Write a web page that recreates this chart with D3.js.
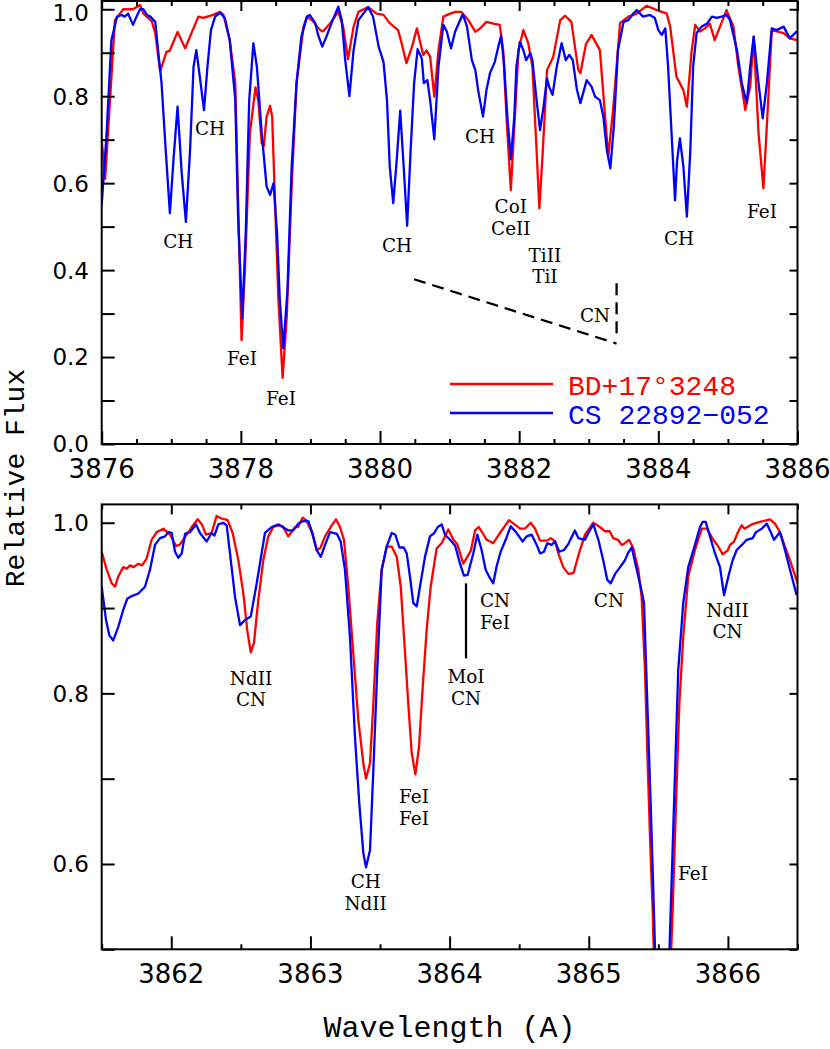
<!DOCTYPE html>
<html>
<head>
<meta charset="utf-8">
<script src="https://cdn.jsdelivr.net/npm/d3@7"></script>
<style>
  body { margin: 0; background: #fff; }
  svg { display: block; }
</style>
</head>
<body>
<div id="chart"></div>
<script>
// ---- data: [wavelength (A), relative flux] ----
const topRed = [
  [3876.00,0.70],[3876.05,0.61],[3876.19,0.975],[3876.31,1.00],[3876.45,1.00],[3876.55,1.01],[3876.60,0.99],
  [3876.72,0.972],[3876.77,0.945],[3876.84,0.857],[3876.93,0.902],[3876.98,0.905],[3877.09,0.948],[3877.20,0.91],
  [3877.29,0.945],[3877.39,0.983],[3877.46,0.98],[3877.60,0.987],[3877.70,0.994],[3877.75,0.987],[3877.84,0.929],
  [3877.92,0.83],[3877.96,0.561],[3878.01,0.239],[3878.06,0.408],[3878.13,0.715],[3878.21,0.82],[3878.25,0.791],
  [3878.30,0.692],[3878.33,0.685],[3878.37,0.753],[3878.42,0.778],[3878.45,0.753],[3878.49,0.561],[3878.54,0.331],
  [3878.60,0.152],[3878.66,0.293],[3878.73,0.592],[3878.80,0.83],[3878.90,0.96],[3878.95,0.983],[3879.02,0.975],
  [3879.14,0.952],[3879.18,0.949],[3879.28,0.967],[3879.40,0.994],[3879.47,0.96],[3879.54,0.885],[3879.62,0.96],
  [3879.69,0.994],[3879.83,1.005],[3879.95,0.99],[3880.05,0.987],[3880.14,0.968],[3880.26,0.952],[3880.31,0.922],
  [3880.38,0.876],[3880.46,0.914],[3880.53,0.956],[3880.62,0.895],[3880.67,0.905],[3880.72,0.891],[3880.78,0.799],
  [3880.84,0.906],[3880.91,0.983],[3881.01,0.99],[3881.08,0.994],[3881.17,0.994],[3881.27,0.975],[3881.37,0.948],
  [3881.44,0.956],[3881.53,0.971],[3881.63,0.967],[3881.72,0.964],[3881.77,0.906],[3881.82,0.745],[3881.88,0.584],
  [3881.93,0.73],[3881.99,0.906],[3882.06,0.952],[3882.13,0.922],[3882.19,0.868],[3882.25,0.676],[3882.29,0.542],
  [3882.34,0.676],[3882.40,0.86],[3882.49,0.891],[3882.59,0.975],[3882.66,0.985],[3882.75,0.971],[3882.85,0.86],
  [3882.88,0.853],[3882.96,0.92],[3883.04,0.941],[3883.16,0.906],[3883.28,0.661],[3883.35,0.77],[3883.45,0.968],
  [3883.57,0.983],[3883.69,0.99],[3883.83,1.008],[3883.98,0.998],[3884.12,0.99],[3884.17,0.96],[3884.26,0.845],
  [3884.36,0.814],[3884.41,0.776],[3884.48,0.906],[3884.53,0.964],[3884.60,0.949],[3884.67,0.956],[3884.74,0.967],
  [3884.81,0.929],[3884.86,0.949],[3884.98,0.998],[3885.08,0.96],[3885.15,0.868],[3885.25,0.768],[3885.32,0.822],
  [3885.37,0.937],[3885.44,0.715],[3885.51,0.588],[3885.57,0.763],[3885.63,0.952],[3885.70,0.949],[3885.80,0.945],
  [3885.89,0.933],[3885.99,0.929]
];

const topBlue = [
  [3876.00,0.55],[3876.07,0.714],[3876.14,0.929],[3876.22,0.983],[3876.29,0.987],[3876.33,0.983],[3876.38,0.99],
  [3876.45,0.964],[3876.50,0.983],[3876.55,1.0],[3876.60,1.0],[3876.65,0.987],[3876.70,0.983],[3876.77,0.971],
  [3876.81,0.906],[3876.86,0.83],[3876.92,0.676],[3876.98,0.531],[3877.03,0.65],[3877.09,0.776],[3877.15,0.623],
  [3877.21,0.511],[3877.27,0.676],[3877.32,0.868],[3877.36,0.906],[3877.41,0.845],[3877.47,0.768],[3877.52,0.868],
  [3877.57,0.952],[3877.63,0.983],[3877.70,0.992],[3877.77,0.98],[3877.84,0.929],[3877.92,0.791],[3877.96,0.523],
  [3878.02,0.289],[3878.07,0.485],[3878.12,0.791],[3878.18,0.922],[3878.23,0.868],[3878.30,0.715],[3878.37,0.592],
  [3878.42,0.573],[3878.47,0.60],[3878.52,0.485],[3878.56,0.331],[3878.61,0.22],[3878.67,0.355],[3878.73,0.638],
  [3878.80,0.83],[3878.87,0.937],[3878.95,0.983],[3878.99,0.987],[3879.07,0.968],[3879.11,0.941],[3879.17,0.914],
  [3879.23,0.937],[3879.31,0.971],[3879.40,1.006],[3879.45,0.975],[3879.50,0.883],[3879.56,0.80],[3879.62,0.906],
  [3879.69,0.975],[3879.76,0.99],[3879.83,1.005],[3879.90,0.983],[3879.98,0.914],[3880.05,0.879],[3880.10,0.791],
  [3880.14,0.638],[3880.19,0.554],[3880.24,0.653],[3880.29,0.767],[3880.34,0.638],[3880.39,0.502],[3880.44,0.676],
  [3880.49,0.83],[3880.54,0.908],[3880.60,0.887],[3880.63,0.83],[3880.68,0.837],[3880.72,0.791],[3880.78,0.701],
  [3880.84,0.868],[3880.91,0.964],[3880.96,0.949],[3881.02,0.91],[3881.08,0.949],[3881.19,0.989],[3881.25,0.96],
  [3881.32,0.883],[3881.37,0.86],[3881.41,0.814],[3881.48,0.753],[3881.53,0.814],[3881.58,0.853],[3881.65,0.879],
  [3881.70,0.914],[3881.74,0.939],[3881.78,0.879],[3881.83,0.753],[3881.88,0.655],[3881.93,0.753],[3881.96,0.868],
  [3882.01,0.925],[3882.06,0.906],[3882.10,0.883],[3882.16,0.899],[3882.19,0.883],[3882.25,0.791],[3882.30,0.722],
  [3882.35,0.776],[3882.40,0.841],[3882.43,0.822],[3882.48,0.803],[3882.54,0.868],[3882.61,0.922],[3882.67,0.883],
  [3882.72,0.895],[3882.77,0.883],[3882.83,0.815],[3882.88,0.784],[3882.97,0.837],[3883.04,0.822],[3883.09,0.799],
  [3883.16,0.791],[3883.21,0.753],[3883.26,0.676],[3883.31,0.634],[3883.36,0.73],[3883.42,0.906],[3883.50,0.971],
  [3883.57,0.975],[3883.64,0.99],[3883.69,0.998],[3883.78,0.983],[3883.88,0.987],[3883.95,0.98],[3884.00,0.952],
  [3884.05,0.941],[3884.10,0.956],[3884.14,0.868],[3884.19,0.715],[3884.24,0.561],[3884.27,0.653],[3884.31,0.703],
  [3884.36,0.638],[3884.41,0.523],[3884.46,0.676],[3884.50,0.868],[3884.55,0.945],[3884.62,0.96],[3884.70,0.967],
  [3884.77,0.983],[3884.84,0.98],[3884.91,0.983],[3884.98,0.987],[3885.03,0.975],[3885.13,0.906],[3885.20,0.83],
  [3885.27,0.784],[3885.32,0.868],[3885.37,0.937],[3885.44,0.83],[3885.50,0.749],[3885.56,0.83],[3885.63,0.956],
  [3885.70,0.952],[3885.80,0.96],[3885.89,0.933],[3885.99,0.949]
];

const botRed = [
  [3861.50,0.966],[3861.536,0.945],[3861.572,0.929],[3861.596,0.925],[3861.619,0.937],[3861.655,0.948],[3861.68,0.946],
  [3861.703,0.95],[3861.73,0.948],[3861.763,0.952],[3861.79,0.95],[3861.823,0.958],[3861.859,0.98],[3861.895,0.989],
  [3861.943,0.993],[3861.991,0.986],[3862.034,0.973],[3862.06,0.974],[3862.111,0.986],[3862.147,0.995],[3862.19,1.004],
  [3862.22,0.998],[3862.249,0.986],[3862.29,0.988],[3862.326,1.008],[3862.36,1.005],[3862.405,1.003],[3862.441,0.988],
  [3862.482,0.956],[3862.518,0.917],[3862.546,0.874],[3862.571,0.848],[3862.594,0.859],[3862.625,0.909],[3862.661,0.956],
  [3862.697,0.984],[3862.733,0.995],[3862.77,0.997],[3862.80,0.996],[3862.841,0.984],[3862.89,0.995],[3862.91,0.995],
  [3862.944,1.006],[3862.97,1.003],[3863.009,0.989],[3863.045,0.968],[3863.07,0.97],[3863.105,0.984],[3863.153,0.997],
  [3863.184,1.004],[3863.212,0.995],[3863.241,0.98],[3863.272,0.925],[3863.308,0.847],[3863.344,0.769],[3863.38,0.718],
  [3863.399,0.70],[3863.428,0.718],[3863.452,0.788],[3863.48,0.882],[3863.512,0.945],[3863.548,0.972],[3863.584,0.972],
  [3863.62,0.96],[3863.649,0.925],[3863.68,0.847],[3863.703,0.788],[3863.728,0.73],[3863.754,0.705],[3863.78,0.737],
  [3863.807,0.808],[3863.835,0.874],[3863.864,0.925],[3863.907,0.97],[3863.943,0.976],[3863.991,0.992],[3864.027,0.98],
  [3864.055,0.975],[3864.098,0.952],[3864.12,0.958],[3864.152,0.967],[3864.183,0.991],[3864.21,0.995],[3864.267,0.98],
  [3864.314,0.976],[3864.362,0.988],[3864.427,1.003],[3864.46,0.999],[3864.506,0.993],[3864.54,0.993],[3864.583,1.0],
  [3864.614,0.993],[3864.65,0.979],[3864.70,0.979],[3864.727,0.982],[3864.76,0.978],[3864.781,0.964],[3864.817,0.948],
  [3864.853,0.94],[3864.89,0.941],[3864.937,0.968],[3864.973,0.986],[3865.033,1.0],[3865.08,0.995],[3865.117,0.99],
  [3865.15,0.99],[3865.176,0.982],[3865.21,0.98],[3865.237,0.974],[3865.26,0.976],[3865.289,0.98],[3865.32,0.97],
  [3865.356,0.945],[3865.38,0.913],[3865.404,0.827],[3865.421,0.73],[3865.44,0.632],[3865.459,0.546],[3865.48,0.42],
  [3865.53,0.30],[3865.57,0.40],[3865.603,0.546],[3865.627,0.671],[3865.651,0.788],[3865.679,0.866],[3865.715,0.937],
  [3865.763,0.968],[3865.812,0.993],[3865.85,0.993],[3865.895,0.98],[3865.931,0.972],[3865.962,0.963],[3866.00,0.968],
  [3866.015,0.974],[3866.044,0.978],[3866.075,0.99],[3866.099,0.997],[3866.12,0.993],[3866.17,0.998],[3866.23,1.001],
  [3866.302,1.004],[3866.338,0.999],[3866.374,0.989],[3866.41,0.972],[3866.446,0.956],[3866.501,0.929]
];

const botBlue = [
  [3861.50,0.925],[3861.531,0.886],[3861.555,0.868],[3861.583,0.862],[3861.619,0.878],[3861.655,0.898],[3861.684,0.911],
  [3861.716,0.914],[3861.763,0.917],[3861.811,0.925],[3861.847,0.945],[3861.883,0.974],[3861.919,0.982],[3861.955,0.984],
  [3861.979,0.989],[3862.003,0.988],[3862.027,0.966],[3862.05,0.959],[3862.075,0.964],[3862.099,0.987],[3862.135,0.989],
  [3862.178,0.998],[3862.206,0.988],[3862.254,0.978],[3862.29,0.988],[3862.31,0.985],[3862.338,0.998],[3862.374,1.0],
  [3862.398,0.997],[3862.422,0.964],[3862.458,0.913],[3862.494,0.88],[3862.53,0.886],[3862.571,0.89],[3862.614,0.929],
  [3862.673,0.988],[3862.722,0.995],[3862.77,0.998],[3862.80,0.995],[3862.841,0.991],[3862.877,0.991],[3862.913,0.999],
  [3862.949,1.002],[3862.985,1.002],[3863.016,0.987],[3863.045,0.968],[3863.074,0.96],[3863.105,0.974],[3863.141,0.989],
  [3863.19,0.987],[3863.217,0.978],[3863.248,0.945],[3863.284,0.866],[3863.32,0.749],[3863.351,0.671],[3863.38,0.613],
  [3863.399,0.596],[3863.428,0.616],[3863.452,0.71],[3863.48,0.827],[3863.512,0.945],[3863.548,0.972],[3863.584,0.988],
  [3863.61,0.986],[3863.639,0.971],[3863.67,0.971],[3863.692,0.964],[3863.715,0.937],[3863.739,0.906],[3863.764,0.902],
  [3863.787,0.925],[3863.823,0.96],[3863.859,0.984],[3863.89,0.988],[3863.914,0.995],[3863.943,0.998],[3863.967,0.986],
  [3864.003,0.98],[3864.04,0.973],[3864.075,0.952],[3864.103,0.938],[3864.13,0.939],[3864.17,0.964],[3864.199,0.986],
  [3864.23,0.968],[3864.259,0.945],[3864.29,0.935],[3864.314,0.929],[3864.338,0.949],[3864.367,0.966],[3864.403,0.98],
  [3864.439,0.996],[3864.477,0.989],[3864.525,0.978],[3864.554,0.984],[3864.59,0.986],[3864.626,0.974],[3864.65,0.964],
  [3864.678,0.966],[3864.702,0.976],[3864.733,0.974],[3864.757,0.978],[3864.788,0.966],[3864.822,0.968],[3864.853,0.975],
  [3864.90,0.991],[3864.925,0.982],[3864.973,0.98],[3864.997,0.988],[3865.033,0.998],[3865.069,0.98],[3865.104,0.956],
  [3865.133,0.933],[3865.158,0.929],[3865.189,0.94],[3865.225,0.948],[3865.26,0.956],[3865.284,0.965],[3865.309,0.971],
  [3865.345,0.945],[3865.373,0.925],[3865.397,0.906],[3865.421,0.788],[3865.445,0.671],[3865.468,0.546],[3865.49,0.42],
  [3865.53,0.30],[3865.565,0.42],[3865.589,0.546],[3865.613,0.671],[3865.643,0.827],[3865.679,0.906],[3865.715,0.948],
  [3865.763,0.974],[3865.799,0.995],[3865.819,1.001],[3865.84,1.001],[3865.871,0.984],[3865.907,0.964],[3865.943,0.948],
  [3865.972,0.915],[3866.003,0.937],[3866.034,0.956],[3866.063,0.968],[3866.10,0.974],[3866.135,0.98],[3866.178,0.982],
  [3866.202,0.989],[3866.243,0.993],[3866.279,0.999],[3866.302,0.991],[3866.331,0.98],[3866.374,0.989],[3866.41,0.968],
  [3866.446,0.945],[3866.494,0.915]
];

// line identifications: [lines of text, wavelength, flux at first baseline]
const topNotes = [
  [["CH"],3877.556,0.711],[["CH"],3877.10,0.450],[["FeI"],3878.016,0.182],[["FeI"],3878.577,0.090],
  [["CH"],3880.244,0.442],[["CH"],3881.437,0.692],[["CoI","CeII"],3881.88,0.531],
  [["TiII","TiI"],3882.37,0.419],[["CH"],3884.297,0.458],[["FeI"],3885.49,0.519],
  [["CN"],3883.09,0.281]
];
const botNotes = [
  [["NdII","CN"],3862.573,0.810],[["CH","NdII"],3863.397,0.5715],[["FeI","FeI"],3863.744,0.671],
  [["MoI","CN"],3864.118,0.812],[["CN","FeI"],3864.326,0.901],[["CN"],3865.145,0.9016],
  [["NdII","CN"],3865.997,0.890],[["FeI"],3865.749,0.581]
];
const cnBand = [[3880.49,0.379],[3883.40,0.231]];
const cnHead = [[3883.40,0.370],[3883.40,0.251]];
const moMarker = [[3864.118,0.929],[3864.118,0.841]];

const topXLabels = [3876,3878,3880,3882,3884,3886];
const topYLabels = [0,0.2,0.4,0.6,0.8,1.0];
const botXLabels = [3862,3863,3864,3865,3866];
const botYLabels = [0.6,0.8,1.0];

const starNames = ["BD+17\u00B03248","CS 22892\u2212052"];
const starColors = ["#ff0000","#0000ff"];

// ---- drawing ----
const W = 830, H = 1049;
const svg = d3.select("#chart").append("svg").attr("width", W).attr("height", H);

const tickFont = "'DejaVu Sans', sans-serif";
const noteFont = "'DejaVu Serif', serif";
const monoFont = "'Liberation Mono', 'DejaVu Sans Mono', monospace";

function panel(o) {
  const x = d3.scaleLinear().domain(o.xDomain).range([101.7, 797.5]);
  const y = d3.scaleLinear().domain(o.yDomain).range(o.yRange);
  const g = svg.append("g");
  const [x0, x1] = x.range();
  const yb = o.yRange[0], yt = o.yRange[1];

  const clipId = "clip" + o.id;
  g.append("clipPath").attr("id", clipId)
    .append("rect").attr("x", x0).attr("y", yt).attr("width", x1 - x0).attr("height", yb - yt);

  const line = d3.line().x(d => x(d[0])).y(d => y(d[1]));
  const curves = g.append("g").attr("clip-path", `url(#${clipId})`);
  o.series.forEach((s, i) => {
    curves.append("path").datum(s)
      .attr("d", line)
      .attr("fill", "none")
      .attr("stroke", starColors[i])
      .attr("stroke-width", 2.3)
      .attr("stroke-linejoin", "round");
  });

  // ticks (inward, on all four sides)
  const minorX = d3.range(o.xDomain[0], o.xDomain[1] + 0.001, 0.5).filter(v => !o.xMajor.includes(v));
  const yT = d3.range(0, 11).map(i => +(i * 0.1).toFixed(1)).filter(v => v >= o.yDomain[0] - 1e-6 && v <= o.yDomain[1]);

  const addAxis = (axis, tr) => {
    const a = g.append("g").attr("transform", tr).call(axis);
    a.select(".domain").remove();
    a.selectAll("line").attr("stroke", "#000").attr("stroke-width", 2);
  };
  addAxis(d3.axisBottom(x).tickValues(minorX).tickSize(-5).tickFormat(""), `translate(0,${yb})`);
  addAxis(d3.axisBottom(x).tickValues(o.xMajor).tickSize(-13).tickFormat(""), `translate(0,${yb})`);
  addAxis(d3.axisTop(x).tickValues(minorX).tickSize(-5).tickFormat(""), `translate(0,${yt})`);
  addAxis(d3.axisTop(x).tickValues(o.xMajor).tickSize(-10).tickFormat(""), `translate(0,${yt})`);
  addAxis(d3.axisLeft(y).tickValues(yT).tickSize(-13).tickFormat(""), `translate(${x0},0)`);
  addAxis(d3.axisRight(y).tickValues(yT).tickSize(-8).tickFormat(""), `translate(${x1},0)`);

  // frame
  g.append("rect").attr("x", x0).attr("y", yt).attr("width", x1 - x0).attr("height", yb - yt)
    .attr("fill", "none").attr("stroke", "#000").attr("stroke-width", 2);

  // tick labels
  g.selectAll(".xl").data(o.xLabels).join("text")
    .attr("x", d => x(d)).attr("y", yb + o.xLabelDy)
    .attr("text-anchor", "middle")
    .attr("font-family", tickFont).attr("font-size", 26)
    .text(d => d);
  g.selectAll(".yl").data(o.yLabels).join("text")
    .attr("x", 89).attr("y", d => Math.max(y(d) + 8.4, 21))
    .attr("text-anchor", "end")
    .attr("font-family", tickFont).attr("font-size", 23)
    .text(d => d3.format(".1f")(d));

  // line identifications (stacked names share one text element)
  g.selectAll(".note").data(o.notes).join("text")
    .attr("x", d => x(d[1])).attr("y", d => y(d[2]))
    .attr("text-anchor", "middle")
    .attr("font-family", noteFont).attr("font-size", 18.4)
    .each(function (d) {
      const t = d3.select(this);
      d[0].forEach((s, k) => {
        t.append("tspan")
          .attr("x", x(d[1]))
          .attr("dy", k === 0 ? 0 : 21.6)
          .text(s);
      });
    });

  return { x, y, g, line };
}

const topPanel = panel({
  id: "top",
  xDomain: [3876, 3886], yDomain: [0, 1.019], yRange: [444, 1],
  xMajor: topXLabels, xLabels: topXLabels, yLabels: topYLabels,
  xLabelDy: 34, series: [topRed, topBlue], notes: topNotes
});

[cnBand, cnHead].forEach(seg => {
  topPanel.g.append("path").datum(seg).attr("d", topPanel.line)
    .attr("fill", "none").attr("stroke", "#000").attr("stroke-width", 2.3)
    .attr("stroke-dasharray", "12,7");
});

// legend
const legendY = [384, 413];
starNames.forEach((name, i) => {
  topPanel.g.append("line")
    .attr("x1", 450).attr("x2", 553).attr("y1", legendY[i]).attr("y2", legendY[i])
    .attr("stroke", starColors[i]).attr("stroke-width", 2.3);
  topPanel.g.append("text")
    .attr("x", 568).attr("y", legendY[i] + 10.5)
    .attr("font-family", monoFont).attr("font-size", 28)
    .attr("fill", starColors[i])
    .text(name);
});

const botPanel = panel({
  id: "bot",
  xDomain: [3861.5, 3866.5], yDomain: [0.5, 1.0215], yRange: [949.3, 504.4],
  xMajor: botXLabels, xLabels: botXLabels, yLabels: botYLabels,
  xLabelDy: 33.4, series: [botRed, botBlue], notes: botNotes
});

botPanel.g.append("path").datum(moMarker).attr("d", botPanel.line)
  .attr("fill", "none").attr("stroke", "#000").attr("stroke-width", 2.3);

// axis titles
svg.append("text")
  .attr("x", 449.6).attr("y", 1036.7)
  .attr("text-anchor", "middle")
  .attr("font-family", monoFont).attr("font-size", 30)
  .text("Wavelength (A)");

svg.append("text")
  .attr("transform", "translate(24,478) rotate(-90)")
  .attr("text-anchor", "middle")
  .attr("font-family", monoFont).attr("font-size", 28)
  .text("Relative Flux");
</script>
</body>
</html>
